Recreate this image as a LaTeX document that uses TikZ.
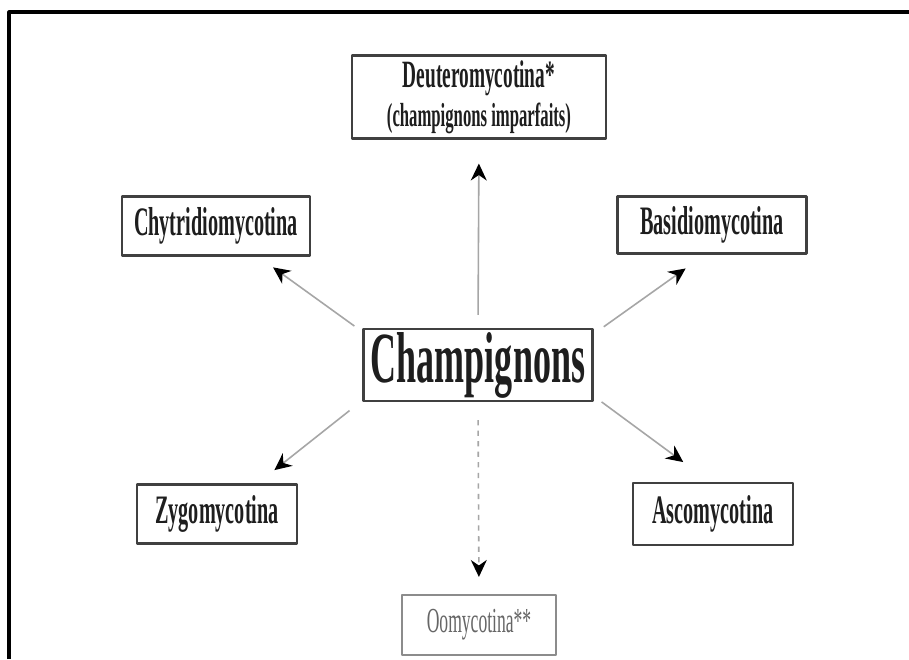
\documentclass[tikz,border=0pt]{standalone}
\usepackage{fontspec}
\setmainfont{Liberation Serif}
\newfontfamily\condfont[FakeStretch=0.5]{Liberation Serif}
\usetikzlibrary{arrows.meta}
\definecolor{ink}{HTML}{1E1E1E}
\tikzset{
  every picture/.style={line join=round, >=Stealth},
  box/.style={draw=black!75, line width=1.2pt, inner sep=0pt, align=center, text=ink, font=\condfont\bfseries\fontsize{23}{25}\selectfont},
  link/.style={draw=black!35, line width=0.9pt, -{Stealth[black,length=0.34cm,width=0.32cm]}},
}
\begin{document}
\begin{tikzpicture}[x=0.02cm,y=-0.02cm]
\useasboundingbox (0,0) rectangle (909,659);
\fill[white](0,0) rectangle (909,659);
\draw[line width=1.8pt](9,659)--(9,12)--(909,12);
% the groups
\node[box,minimum width=4.58cm,minimum height=1.44cm,font=\condfont\bfseries\fontsize{41}{44}\selectfont](champ) at (478,365) {Champignons};
\node[box,minimum width=5.08cm,minimum height=1.66cm](deutero) at (479,97) {{\fontsize{22}{22}\selectfont Deuteromycotina*}\\[-3pt]{\fontsize{19}{19}\selectfont (champignons imparfaits)}};
\node[box,minimum width=3.76cm,minimum height=1.18cm](chytri) at (216,226) {Chytridiomycotina};
\node[box,minimum width=3.78cm,minimum height=1.14cm](basidio) at (712,225) {Basidiomycotina};
\node[box,minimum width=3.2cm,minimum height=1.18cm](zygo) at (217,514) {Zygomycotina};
\node[box,minimum width=3.2cm,minimum height=1.24cm](asco) at (713,514) {Ascomycotina};
\node[box,draw=black!45,text=black!60,minimum width=3.08cm,minimum height=1.2cm,font=\condfont\fontsize{20}{22}\selectfont](oomy) at (479,625) {Oomycotina**};
% arrows
\draw[link,shorten <=0.26cm,shorten >=0.48cm](champ.north)--(deutero.south);
\draw[link,shorten <=0.2cm,shorten >=0.37cm](champ.164.5)--(chytri.-36);
\draw[link,shorten <=0.25cm,shorten >=0.48cm](champ.15.2)--(basidio.-103);
\draw[link,shorten <=0.33cm,shorten >=0.43cm](champ.197.7)--(zygo.37);
\draw[link,shorten <=0.2cm,shorten >=0.67cm](champ.-15.2)--(asco.95.5);
\draw[link,dashed,shorten <=0.36cm,shorten >=0.34cm](champ.south)--(oomy.north);
\end{tikzpicture}
\end{document}
